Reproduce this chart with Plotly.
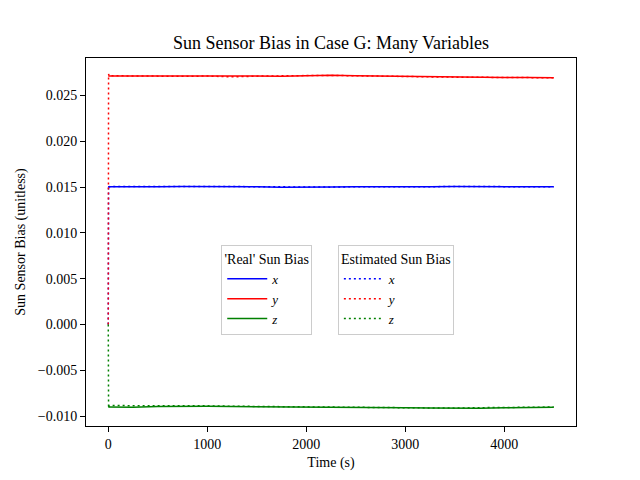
import plotly.graph_objects as go

# ---- data ----
t_real = [0, 250, 500, 750, 1000, 1250, 1500, 1750, 2000, 2250, 2500,
          2750, 3000, 3250, 3500, 3750, 4000, 4250, 4500]
real_x = [0.01505, 0.01503, 0.01504, 0.01508, 0.01509, 0.01506, 0.01504,
          0.01500, 0.01498, 0.01502, 0.01504, 0.01502, 0.01500, 0.01503,
          0.01507, 0.01508, 0.01506, 0.01505, 0.01504]
real_y = [0.02714, 0.02713, 0.02714, 0.02712, 0.02711, 0.02706, 0.02710,
          0.02712, 0.02716, 0.02722, 0.02716, 0.02712, 0.02710, 0.02706,
          0.02702, 0.02700, 0.02698, 0.02697, 0.02695]
real_z = [-0.00900, -0.00902, -0.00895, -0.00890, -0.00892, -0.00895,
          -0.00896, -0.00898, -0.00899, -0.00900, -0.00902, -0.00904,
          -0.00908, -0.00912, -0.00916, -0.00914, -0.00910, -0.00905,
          -0.00903]

t_est = [0, 3, 10, 30, 250, 500, 750, 1000, 1250, 1500, 1750, 2000, 2250,
         2500, 2750, 3000, 3250, 3500, 3750, 4000, 4250, 4500]
est_x = [0.0, 0.01520, 0.01502, 0.01506, 0.01505, 0.01502, 0.01507, 0.01508,
         0.01505, 0.01503, 0.01499, 0.01497, 0.01500, 0.01505, 0.01503,
         0.01501, 0.01504, 0.01508, 0.01507, 0.01505, 0.01504, 0.01503]
est_y = [0.0, 0.02735, 0.02712, 0.02716, 0.02712, 0.02715, 0.02710, 0.02713,
         0.02704, 0.02712, 0.02711, 0.02718, 0.02720, 0.02714, 0.02713,
         0.02708, 0.02704, 0.02701, 0.02699, 0.02697, 0.02698, 0.02694]
est_z = [0.0, -0.00915, -0.00885, -0.00885, -0.00884, -0.00886, -0.00889,
         -0.00888, -0.00892, -0.00894, -0.00898, -0.00897, -0.00902,
         -0.00903, -0.00906, -0.00910, -0.00914, -0.00913, -0.00908,
         -0.00906, -0.00902, -0.00901]

labels = ["<i>x</i>", "<i>y</i>", "<i>z</i>"]
colors = ["#0000ff", "#ff0000", "#008000"]

FONT = "Liberation Serif"
W, H = 632, 472  # page body has an 8px margin

fig = go.Figure()
for lab, col, ys in zip(labels, colors, [real_x, real_y, real_z]):
    fig.add_trace(go.Scatter(x=t_real, y=ys, mode="lines", name=lab,
                             line=dict(color=col, width=1.5),
                             legend="legend"))
for lab, col, ys in zip(labels, colors, [est_x, est_y, est_z]):
    fig.add_trace(go.Scatter(x=t_est, y=ys, mode="lines", name=lab,
                             line=dict(color=col, width=1.5, dash="2px,3px"),
                             legend="legend2"))

axis_common = dict(showline=True, linecolor="black", linewidth=1, mirror=True,
                   ticks="outside", ticklen=5, tickcolor="black",
                   showgrid=False, zeroline=False,
                   tickfont=dict(family=FONT, size=14, color="black"))

leg_common = dict(xanchor="left", yanchor="top",
                  bgcolor="rgba(255,255,255,0.8)", bordercolor="#cccccc",
                  borderwidth=1, font=dict(family=FONT, size=13),
                  itemwidth=40, tracegroupgap=0)

fig.update_layout(
    width=W, height=H,
    margin=dict(l=72, r=64, t=49.6, b=52.8),
    plot_bgcolor="white", paper_bgcolor="white",
    font=dict(family=FONT, size=14, color="black"),
    title=dict(text="Sun Sensor Bias in Case G: Many Variables",
               x=0.5, xanchor="center", xref="paper",
               y=1 - 35 / H, yanchor="middle",
               font=dict(family=FONT, size=18, color="black")),
    xaxis=dict(range=[-225, 4725], tickvals=[0, 1000, 2000, 3000, 4000],
               tickformat="d",
               title=dict(text="Time (s)", font=dict(family=FONT, size=14),
                          standoff=6),
               **axis_common),
    yaxis=dict(range=[-0.01108, 0.0291], dtick=0.005, tick0=0,
               tickformat=".3f",
               title=dict(text="Sun Sensor Bias (unitless)",
                          font=dict(family=FONT, size=14), standoff=8),
               **axis_common),
    legend=dict(x=0.276, y=0.493,
                title=dict(text="'Real' Sun Bias", side="top center",
                           font=dict(family=FONT, size=14)),
                **leg_common),
    legend2=dict(x=0.514, y=0.493,
                 title=dict(text="Estimated Sun Bias", side="top center",
                            font=dict(family=FONT, size=14)),
                 **leg_common),
)

fig.write_html("out.html")
